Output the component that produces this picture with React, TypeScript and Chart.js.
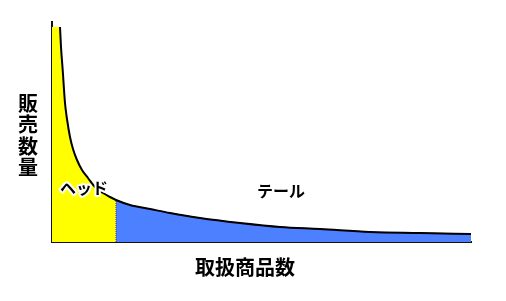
import React, { useEffect, useRef } from "react";
import { Chart, registerables } from "chart.js";

Chart.register(...registerables);

// product rank (x) and sales volume (y)
const headX = [0, 8, 9, 10.7, 13, 15, 18, 21, 25, 30, 36, 43, 51, 58, 64];
const headY = [215, 215, 195, 172, 139, 123, 105, 93, 82, 72, 64, 55, 49, 45, 42];
const tailX = [64, 78, 98, 118, 148, 188, 228, 268, 318, 368, 419];
const tailY = [42, 37, 33, 29, 24, 19, 15, 13, 10, 9, 8];
const splitX = 64;
const splitY = 42;
const yTitle = "販売数量";
const xTitle = "取扱商品数";
const headLabel = "ヘッド";
const tailLabel = "テール";

const pts = (xs: number[], ys: number[]) => xs.map((x, i) => ({ x, y: ys[i] }));

const FONT = '"Noto Sans CJK JP", sans-serif';

const textPlugin = {
  id: "texts",
  afterDraw(chart: any) {
    const ctx = chart.ctx as CanvasRenderingContext2D;
    const xs = chart.scales.x;
    const ys = chart.scales.y;
    ctx.save();
    ctx.textAlign = "center";
    ctx.textBaseline = "middle";
    ctx.fillStyle = "#000";
    ctx.font = `bold 20px ${FONT}`;
    const chars = Array.from(yTitle);
    chars.forEach((c, i) => {
      ctx.fillText(c, chart.chartArea.left - 24, 103 + i * 21.5);
    });
    ctx.font = `bold 20px ${FONT}`;
    ctx.fillText(xTitle, 245, 267);
    // head label with white outline
    ctx.font = `bold 16px ${FONT}`;
    ctx.lineJoin = "round";
    ctx.strokeStyle = "#fff";
    ctx.lineWidth = 4;
    const hx = xs.getPixelForValue(32);
    const hy = ys.getPixelForValue(54);
    ctx.strokeText(headLabel, hx, hy);
    ctx.fillText(headLabel, hx, hy);
    const tx = xs.getPixelForValue(229);
    const ty = ys.getPixelForValue(51);
    ctx.fillText(tailLabel, tx, ty);
    ctx.restore();
  },
};

export default function App() {
  const ref = useRef<HTMLCanvasElement>(null);
  useEffect(() => {
    const lineData = [
      ...pts(headX, headY).filter((p) => p.x >= 8),
      ...pts(tailX, tailY).slice(1),
    ];
    const chart = new Chart(ref.current!, {
      type: "line",
      data: {
        datasets: [
          {
            data: lineData,
            borderColor: "#000",
            borderWidth: 2,
            pointRadius: 0,
            fill: false,
            cubicInterpolationMode: "monotone",
          },
          {
            data: [
              { x: splitX, y: 0 },
              { x: splitX, y: splitY },
            ],
            borderColor: "#3a2a8a",
            borderWidth: 1,
            borderDash: [1, 1],
            pointRadius: 0,
            fill: false,
          },
          {
            data: pts(headX, headY),
            borderWidth: 0,
            borderColor: "rgba(0,0,0,0)",
            backgroundColor: "#ffff00",
            pointRadius: 0,
            fill: "origin",
            cubicInterpolationMode: "monotone",
          },
          {
            data: pts(tailX, tailY),
            borderWidth: 1,
            borderColor: "#a0208a",
            backgroundColor: "#4d80ff",
            pointRadius: 0,
            fill: "origin",
            cubicInterpolationMode: "monotone",
          },
        ],
      },
      options: {
        animation: false,
        responsive: false,
        layout: { padding: { left: 52, top: 22, right: 35, bottom: 59 } },
        plugins: { legend: { display: false }, tooltip: { enabled: false } },
        scales: {
          x: {
            type: "linear",
            min: 0,
            max: 419,
            ticks: { display: false },
            grid: { display: false, drawTicks: false },
            border: { color: "#111", width: 2 },
          },
          y: {
            min: 0,
            max: 220,
            ticks: { display: false },
            grid: { display: false, drawTicks: false },
            border: { color: "#111", width: 2 },
          },
        },
      },
      plugins: [textPlugin],
    });
    return () => chart.destroy();
  }, []);
  return (
    <div style={{ position: "absolute", left: 0, top: 0, width: 506, height: 301, background: "#fff" }}>
      <canvas ref={ref} width={506} height={301} />
    </div>
  );
}
